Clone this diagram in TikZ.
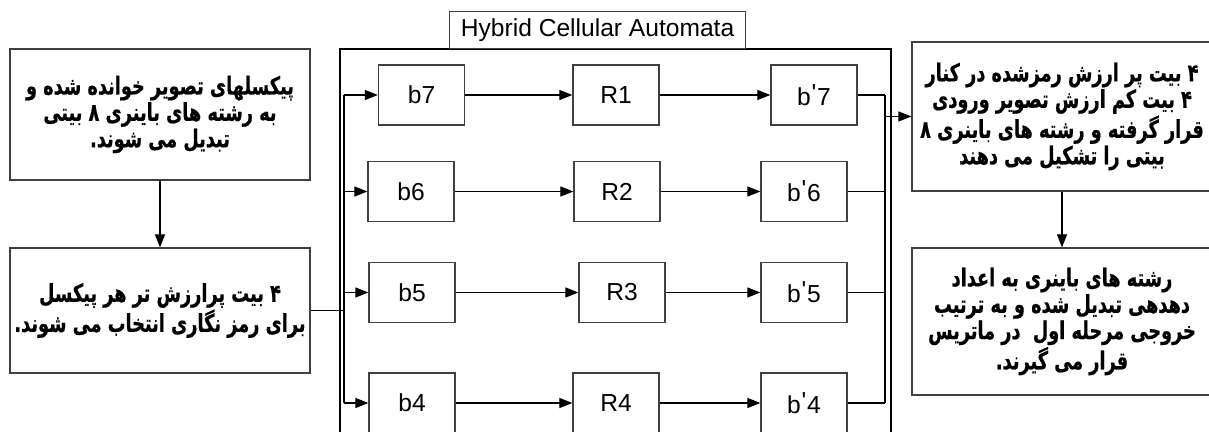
\documentclass[tikz,border=0pt]{standalone}
\usepackage{fontspec}
\setmainfont{Liberation Sans}
\newfontfamily\arabicfont[Script=Arabic, FakeStretch=0.72, FakeBold=0.6]{DejaVu Sans}
\TeXXeTstate=1
\usetikzlibrary{arrows.meta}

\def\cellW{1.72cm}
\def\cellH{1.2cm}
\def\noteW{6cm}

\tikzset{
  cell/.style={draw=black!75, line width=0.7pt, minimum width=\cellW,
    minimum height=\cellH, inner sep=0pt, font=\fontsize{14}{16}\selectfont},
  note/.style={draw=black!75, line width=0.7pt, minimum width=\noteW,
    inner sep=0pt, align=center,
    font=\arabicfont\bfseries\fontsize{14}{15}\selectfont},
  link/.style={line width=0.6pt, -{Triangle[length=0.26cm, width=0.2cm]}},
  wire/.style={line width=0.6pt},
}

\begin{document}
\begin{tikzpicture}[x=0.02cm, y=-0.02cm]
  \useasboundingbox (0,0) rectangle (1209,432);
  \clip (0,0) rectangle (1209,432);

  %% left column
  \node [note, minimum height=2.62cm] (read) at (160,114.5)
    {\beginR پیکسلهای تصویر خوانده شده و\endR\\
     \beginR به رشته های باینری ۸ بیتی\endR\\
     \beginR تبدیل می شوند.\endR};
  \node [note, minimum height=2.5cm] (stage) at (160,310.5)
    {\beginR ۴ بیت پرارزش تر هر پیکسل\endR\\
     \beginR برای رمز نگاری انتخاب می شوند.\endR};

  %% right column
  \node [note, minimum height=2.98cm] (merge) at (1062,116.5)
    {\beginR ۴ بیت پر ارزش رمزشده در کنار\endR\\
     \beginR ۴ بیت کم ارزش تصویر ورودی\endR\\
     \beginR قرار گرفته و رشته های باینری ۸\endR\\
     \beginR بیتی را تشکیل می دهند\endR};
  \node [note, minimum height=2.94cm] (decimal) at (1062,321.5)
    {\beginR رشته های باینری به اعداد\endR\\
     \beginR دهدهی تبدیل شده و به ترتیب\endR\\
     \beginR خروجی مرحله اول \ در ماتریس\endR\\
     \beginR قرار می گیرند.\endR};

  %% hybrid cellular automata frame
  \draw [line width=0.9pt] (340,49) rectangle (891,470);
  \node [draw=black!75, line width=0.7pt, minimum width=5.92cm,
    minimum height=0.74cm, inner sep=0pt, anchor=south west,
    font=\fontsize{14}{16}\selectfont] (hcaTitle) at (449,49)
    {Hybrid Cellular Automata};

  \coordinate (busTop) at (344,95);
  \coordinate (busBot) at (344,403);
  \coordinate (sumTop) at (885,95);
  \coordinate (sumBot) at (885,403);

  \foreach \b/\r/\y/\xb/\xr/\xp in {7/1/95/421.5/616/814,
      6/2/191.5/411/617/804, 5/3/292.5/412/622/804, 4/4/403/412/616/804} {
    \node [cell] (b\b) at (\xb,\y) {b\b};
    \node [cell] (r\r) at (\xr,\y) {R\r};
    \node [cell] (bp\b) at (\xp,\y)
      {b\kern0.5pt\raisebox{0.15em}{\textquotesingle}\kern0.5pt\b};
    \draw [link] (b\b.west -| busTop) -- (b\b);
    \draw [link] (b\b) -- (r\r);
    \draw [link] (r\r) -- (bp\b);
    \draw [wire] (bp\b) -- (bp\b.east -| sumTop);
  }

  \draw [wire] (busTop) -- (busBot);
  \draw [wire] (sumTop) -- (sumBot);
  \draw [wire] (stage.east) -- (stage.east -| busTop);
  \draw [link] (sumTop |- merge.west) -- (merge);
  \draw [link] (read) -- (stage);
  \draw [link] (merge) -- (decimal);
\end{tikzpicture}
\end{document}
